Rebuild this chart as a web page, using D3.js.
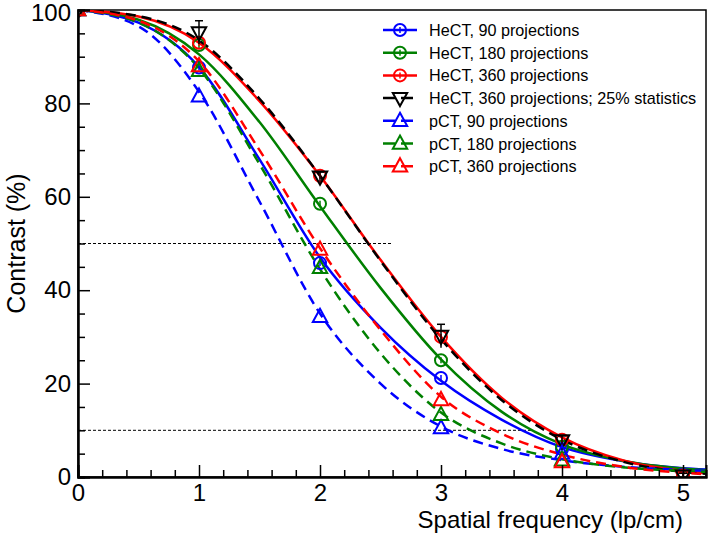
<!DOCTYPE html>
<html><head><meta charset="utf-8">
<script src="https://cdn.jsdelivr.net/npm/d3@7"></script>
<style>html,body{margin:0;padding:0;background:#fff;} svg{display:block;font-family:"Liberation Sans",Arial,sans-serif;}</style>
</head><body>
<svg id="chart" width="709" height="536"></svg>
<script>
// ---- data ----
const fitFreq = [0, 0.5, 1, 1.5, 2, 2.5, 3, 3.5, 4, 4.5, 5, 5.2];
const fitHeCT90   = [100, 97.3, 87.8, 68, 47, 32, 20.6, 12.3, 6.4, 3.4, 1.9, 1.6];
const fitHeCT180  = [100, 97.9, 90.5, 76, 58, 40.5, 25.2, 14, 7, 3.5, 1.8, 1.4];
const fitHeCT360  = [100, 98.6, 93, 80.5, 64.5, 46.5, 30, 17, 8.5, 3.6, 1.3, 0.8];
const fitHeCT360s = [100, 98.7, 93.5, 81, 64.5, 46.3, 29.5, 16.5, 8.0, 3.3, 1.1, 0.7];
const fitPCT90    = [100, 96.5, 82.5, 59, 35, 20, 10.8, 6, 3.6, 2.2, 1.5, 1.3];
const fitPCT180   = [100, 97.3, 87.5, 67, 44.5, 26.5, 13.8, 7.2, 3.8, 2.1, 1.3, 1.1];
const fitPCT360   = [100, 97.7, 89, 70, 49, 31.5, 17.2, 9.3, 4.8, 2.2, 0.9, 0.6];

const ptFreqHe  = [0, 1, 2, 3, 4, 5];
const ptFreqP   = [0, 1, 2, 3, 4];
const ptHeCT90   = [100, 87.7, 45.8, 21.2, 6, 0.5];
const ptHeCT180  = [100, 92.5, 58.5, 25, 6.5, 0.3];
const ptHeCT360  = [100, 93, 64.5, 30, 8, 0.3];
const ptHeCT360s = [100, 95.2, 64.3, 30.2, 7.8, 0.3];
const errHeCT360s = [0, 2.5, 1, 2.5, 1, 0.5];
const ptPCT90    = [100, 81.5, 34.3, 10.5, 5];
const ptPCT180   = [100, 87, 44.8, 13.3, 3.6];
const ptPCT360   = [100, 88, 48.7, 16.5, 3.2];

const seriesNames = ["HeCT, 90 projections", "HeCT, 180 projections", "HeCT, 360 projections",
  "HeCT, 360 projections; 25% statistics", "pCT, 90 projections", "pCT, 180 projections", "pCT, 360 projections"];
const seriesColors = ["#0000ff", "#008000", "#ff0000", "#000000", "#0000ff", "#008000", "#ff0000"];
const seriesMarkers = ["circle", "circle", "circle", "down", "up", "up", "up"];
const seriesDashed = [false, false, false, true, true, true, true];

const refLevels = [50, 10];
const refEnds = [2.6, 3.76];
const xTicks = [0, 1, 2, 3, 4, 5];
const yTicks = [0, 20, 40, 60, 80, 100];

const fits = [fitHeCT90, fitHeCT180, fitHeCT360, fitHeCT360s, fitPCT90, fitPCT180, fitPCT360];
const pts = [ptHeCT90, ptHeCT180, ptHeCT360, ptHeCT360s, ptPCT90, ptPCT180, ptPCT360];
const ptFreqs = [ptFreqHe, ptFreqHe, ptFreqHe, ptFreqHe, ptFreqP, ptFreqP, ptFreqP];
const errs = [null, null, null, errHeCT360s, null, null, null];

// ---- chart ----
const svg = d3.select("#chart");
const L = 78, R = 706, T = 10, B = 477;
const x = d3.scaleLinear().domain([0, 5.19]).range([L, R]);
const y = d3.scaleLinear().domain([0, 100]).range([B, T]);

svg.append("defs").append("clipPath").attr("id", "clip")
  .append("rect").attr("x", L).attr("y", T).attr("width", R - L).attr("height", B - T);

// frame
svg.append("rect").attr("x", L).attr("y", T).attr("width", R - L).attr("height", B - T)
  .attr("fill", "none").attr("stroke", "#000").attr("stroke-width", 1.5);

// reference lines
const plot = svg.append("g").attr("clip-path", "url(#clip)");
refLevels.forEach((lv, i) => {
  plot.append("line").attr("x1", x(0)).attr("x2", x(refEnds[i])).attr("y1", y(lv)).attr("y2", y(lv))
    .attr("stroke", "#000").attr("stroke-width", 1).attr("stroke-dasharray", "3,2");
});

const line = d3.line().curve(d3.curveMonotoneX);
const triUp = (cx, cy, s) => `M${cx},${cy - s}L${cx + s * 0.9},${cy + s * 0.65}L${cx - s * 0.9},${cy + s * 0.65}Z`;
const triDown = (cx, cy, s) => `M${cx},${cy + s}L${cx + s * 0.9},${cy - s * 0.65}L${cx - s * 0.9},${cy - s * 0.65}Z`;

function drawMarker(g, type, cx, cy, color) {
  if (type === "circle") {
    g.append("circle").attr("cx", cx).attr("cy", cy).attr("r", 6)
      .attr("fill", "none").attr("stroke", color).attr("stroke-width", 2);
    g.append("line").attr("x1", cx).attr("x2", cx).attr("y1", cy - 3).attr("y2", cy + 3)
      .attr("stroke", color).attr("stroke-width", 1.5);
  } else {
    g.append("path").attr("d", type === "up" ? triUp(cx, cy, 8) : triDown(cx, cy, 8))
      .attr("fill", "none").attr("stroke", color).attr("stroke-width", 2);
  }
}

fits.forEach((f, i) => {
  plot.append("path").attr("d", line(fitFreq.map((fr, j) => [x(fr), y(f[j])])))
    .attr("fill", "none").attr("stroke", seriesColors[i]).attr("stroke-width", 2.5)
    .attr("stroke-dasharray", seriesDashed[i] ? "10,6" : null);
});
pts.forEach((p, i) => {
  const g = plot.append("g");
  p.forEach((v, j) => {
    const cx = x(ptFreqs[i][j]), cy = y(v);
    if (errs[i] && errs[i][j] > 0) {
      const e = errs[i][j];
      g.append("line").attr("x1", cx).attr("x2", cx).attr("y1", y(v + e)).attr("y2", y(v - e))
        .attr("stroke", seriesColors[i]).attr("stroke-width", 1.5);
      g.append("line").attr("x1", cx - 4).attr("x2", cx + 4).attr("y1", y(v + e)).attr("y2", y(v + e))
        .attr("stroke", seriesColors[i]).attr("stroke-width", 1.5);
    }
    drawMarker(g, seriesMarkers[i], cx, cy, seriesColors[i]);
  });
});

// axes
const xAxisG = svg.append("g").attr("transform", `translate(0,${B})`)
  .call(d3.axisBottom(x).tickValues(xTicks).tickSize(-12).tickPadding(7).tickFormat(d3.format("d")));
xAxisG.append("g").call(d3.axisBottom(x).tickValues(d3.range(0, 5.2, 0.2).filter(v => Math.abs(v - Math.round(v)) > 1e-6)).tickSize(-7).tickFormat(""));
const yAxisG = svg.append("g").attr("transform", `translate(${L},0)`)
  .call(d3.axisLeft(y).tickValues(yTicks).tickSize(-12).tickPadding(7).tickFormat(d3.format("d")));
yAxisG.append("g").call(d3.axisLeft(y).tickValues(d3.range(5, 100, 5).filter(v => v % 20 !== 0)).tickSize(-7).tickFormat(""));
[xAxisG, yAxisG].forEach(g => {
  g.selectAll(".domain").attr("stroke", "#000").attr("stroke-width", 2);
  g.selectAll(".tick line").attr("stroke", "#000").attr("stroke-width", 1.5);
  g.selectAll("text").attr("font-size", 24).attr("fill", "#000").attr("font-family", "Liberation Sans, Arial, sans-serif");
});
yAxisG.selectAll(".tick text").filter(d => d === 100).attr("dy", "0.42em");

// axis titles
svg.append("text").attr("x", 683).attr("y", 528).attr("text-anchor", "end")
  .attr("font-size", 24).text("Spatial frequency (lp/cm)");
svg.append("text").attr("transform", `translate(25,${(T + B) / 2}) rotate(-90)`).attr("text-anchor", "middle")
  .attr("font-size", 25).text("Contrast (%)");

// legend
const lg = svg.append("g");
seriesNames.forEach((name, i) => {
  const yy = 30 + i * 22.7;
  lg.append("line").attr("x1", 383).attr("x2", 417).attr("y1", yy).attr("y2", yy)
    .attr("stroke", seriesColors[i]).attr("stroke-width", 2.5)
    .attr("stroke-dasharray", seriesDashed[i] ? "12,6" : null);
  drawMarker(lg, seriesMarkers[i], 400, yy, seriesColors[i]);
  lg.append("text").attr("x", 429).attr("y", yy + 6).attr("font-size", 16.2).text(name);
});
</script>
</body></html>
